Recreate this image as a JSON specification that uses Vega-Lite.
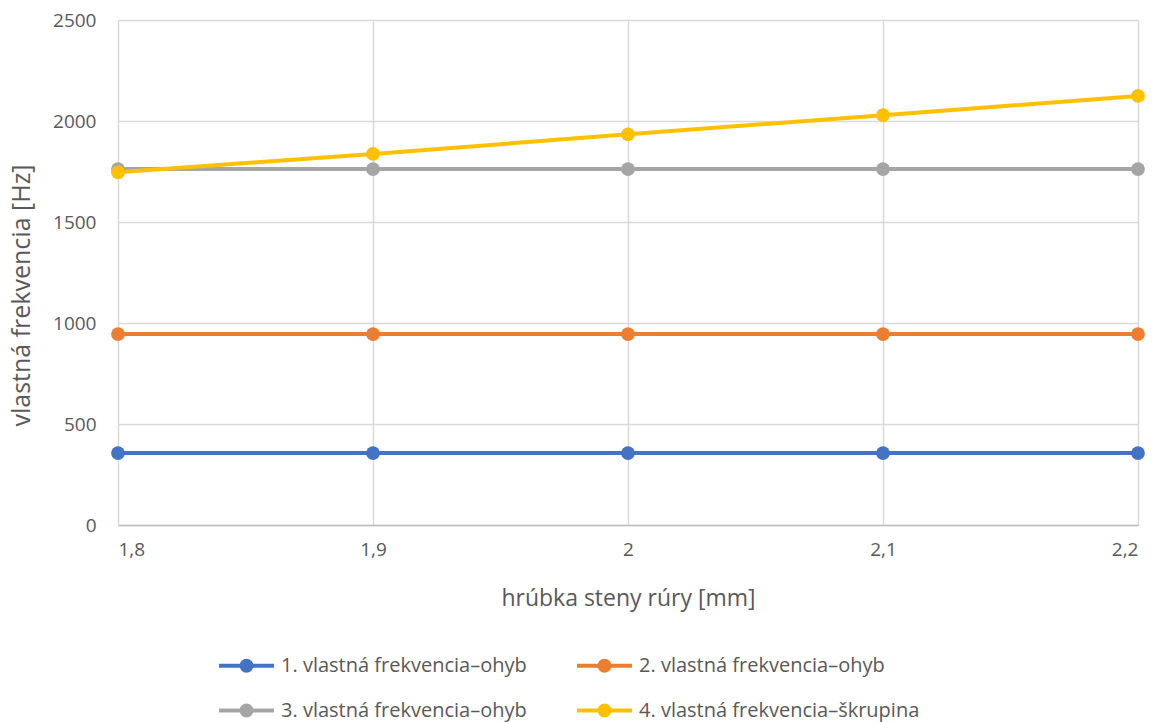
{
  "$schema": "https://vega.github.io/schema/vega-lite/v6.json",
  "width": 1020,
  "height": 505,
  "autosize": {"type": "none"},
  "padding": {"left": 118, "top": 20, "right": 18, "bottom": 197},
  "background": "white",
  "config": {
    "font": "Open Sans",
    "view": {"stroke": null},
    "axis": {"labelFont": "Open Sans", "titleFont": "Open Sans", "labelColor": "#595959", "titleColor": "#595959", "labelFontSize": 19, "titleFontSize": 22, "titleFontWeight": "normal", "ticks": false, "gridColor": "#d9d9d9", "gridWidth": 1.5}
  },
  "data": {
    "values": [
      {"s": "1. vlastná frekvencia–ohyb", "x": 1.8, "y": 356},
      {"s": "1. vlastná frekvencia–ohyb", "x": 1.9, "y": 356},
      {"s": "1. vlastná frekvencia–ohyb", "x": 2.0, "y": 356},
      {"s": "1. vlastná frekvencia–ohyb", "x": 2.1, "y": 356},
      {"s": "1. vlastná frekvencia–ohyb", "x": 2.2, "y": 356},
      {"s": "2. vlastná frekvencia–ohyb", "x": 1.8, "y": 945},
      {"s": "2. vlastná frekvencia–ohyb", "x": 1.9, "y": 945},
      {"s": "2. vlastná frekvencia–ohyb", "x": 2.0, "y": 945},
      {"s": "2. vlastná frekvencia–ohyb", "x": 2.1, "y": 945},
      {"s": "2. vlastná frekvencia–ohyb", "x": 2.2, "y": 945},
      {"s": "3. vlastná frekvencia–ohyb", "x": 1.8, "y": 1762},
      {"s": "3. vlastná frekvencia–ohyb", "x": 1.9, "y": 1762},
      {"s": "3. vlastná frekvencia–ohyb", "x": 2.0, "y": 1762},
      {"s": "3. vlastná frekvencia–ohyb", "x": 2.1, "y": 1762},
      {"s": "3. vlastná frekvencia–ohyb", "x": 2.2, "y": 1762},
      {"s": "4. vlastná frekvencia–škrupina", "x": 1.8, "y": 1746},
      {"s": "4. vlastná frekvencia–škrupina", "x": 1.9, "y": 1837},
      {"s": "4. vlastná frekvencia–škrupina", "x": 2.0, "y": 1934},
      {"s": "4. vlastná frekvencia–škrupina", "x": 2.1, "y": 2029},
      {"s": "4. vlastná frekvencia–škrupina", "x": 2.2, "y": 2124}
    ]
  },
  "mark": {"type": "line", "strokeWidth": 4, "point": {"filled": true, "size": 190, "opacity": 1}},
  "encoding": {
    "x": {
      "field": "x", "type": "quantitative",
      "scale": {"domain": [1.8, 2.2], "nice": false, "zero": false},
      "axis": {"values": [1.8, 1.9, 2.0, 2.1, 2.2], "labelExpr": "replace(format(datum.value, '.2~f'), '.', ',')", "title": "hrúbka steny rúry [mm]", "titleFontSize": 23, "labelPadding": 15, "titlePadding": 28, "domainColor": "#bfbfbf", "domainWidth": 1.5}
    },
    "y": {
      "field": "y", "type": "quantitative",
      "scale": {"domain": [0, 2500], "nice": false},
      "axis": {"values": [0, 500, 1000, 1500, 2000, 2500], "format": "d", "title": "vlastná frekvencia [Hz]", "titleFontSize": 25, "titleY": 275, "labelPadding": 22, "titlePadding": 18, "domain": false}
    },
    "color": {
      "field": "s", "type": "nominal",
      "scale": {"range": ["#4472C4", "#ED7D31", "#A5A5A5", "#FFC000"]},
      "legend": {
        "title": null,
        "orient": "none",
        "direction": "horizontal",
        "legendX": 99,
        "legendY": 616,
        "columns": 2,
        "columnPadding": 42,
        "rowPadding": 2,
        "padding": 0,
        "labelFont": "Open Sans",
        "labelFontSize": 20,
        "labelColor": "#595959",
        "labelOffset": 5,
        "labelLimit": 0,
        "symbolType": "M-1,0H1M0.18,0A0.18,0.18,0,1,1,-0.18,0A0.18,0.18,0,1,1,0.18,0",
        "symbolSize": 3025,
        "symbolStrokeWidth": 4,
        "encode": {"symbols": {"update": {"fill": {"scale": "color", "field": "value"}, "stroke": {"scale": "color", "field": "value"}, "opacity": {"value": 1}}}}
      }
    }
  }
}
